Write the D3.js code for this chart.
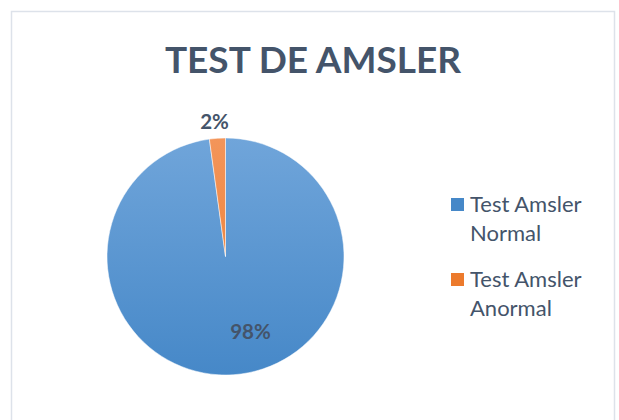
<!DOCTYPE html>
<html>
<head>
<meta charset="utf-8">
<script src="https://cdn.jsdelivr.net/npm/d3@7"></script>
<style>
  body { margin: 0; background: #fff; }
  svg { display: block; }
  text { font-family: Lato, "Open Sans", sans-serif; }
</style>
</head>
<body>
<div id="chart"></div>
<script>
const categories = ["Test Amsler Normal", "Test Amsler Anormal"];
const values = [45, 1];
const legendLines = [["Test Amsler", "Normal"], ["Test Amsler", "Anormal"]];
const title = "TEST DE AMSLER";

const width = 619, height = 420;
const textColor = "#44546a";

const svg = d3.select("#chart").append("svg")
    .attr("width", width)
    .attr("height", height);

// gradients like the office theme fills
const defs = svg.append("defs");
const grads = [["#70a5da", "#4688c8"], ["#f3955a", "#ec7a2c"]];
grads.forEach((g, i) => {
    const lg = defs.append("linearGradient")
        .attr("id", "grad" + i)
        .attr("gradientUnits", "userSpaceOnUse")
        .attr("x1", 0).attr("y1", -119).attr("x2", 0).attr("y2", 119);
    lg.append("stop").attr("offset", "0%").attr("stop-color", g[0]);
    lg.append("stop").attr("offset", "100%").attr("stop-color", g[1]);
});

// chart frame
svg.append("rect")
    .attr("x", 11.5).attr("y", 11.5)
    .attr("width", 603).attr("height", 420)
    .attr("fill", "none")
    .attr("stroke", "#dde2ea")
    .attr("stroke-width", 1.5);

svg.append("text")
    .attr("x", 313).attr("y", 73)
    .attr("text-anchor", "middle")
    .attr("font-size", 37)
    .attr("font-weight", "bold")
    .attr("fill", textColor)
    .text(title);

const cx = 225.5, cy = 256.5, r = 118.5;
const g = svg.append("g").attr("transform", `translate(${cx},${cy})`);

const pie = d3.pie().sort(null).value(d => d);
const arcs = pie(values);
const arc = d3.arc().innerRadius(0).outerRadius(r);
const total = d3.sum(values);
const fmt = d => Math.round(d / total * 100) + "%";

g.selectAll("path")
    .data(arcs)
    .enter()
    .append("path")
    .attr("d", arc)
    .attr("fill", (d, i) => `url(#grad${i})`)
    .attr("stroke", "#fff")
    .attr("stroke-width", 0.5);

// data labels: big slice inside, small slice outside
const labelPos = [[25, 82], [-11, -128]];
g.selectAll("text.lbl")
    .data(arcs)
    .enter()
    .append("text")
    .attr("class", "lbl")
    .attr("x", (d, i) => labelPos[i][0])
    .attr("y", (d, i) => labelPos[i][1])
    .attr("text-anchor", "middle")
    .attr("font-size", 20.5)
    .attr("font-weight", "bold")
    .attr("fill", textColor)
    .text(d => fmt(d.value));

// legend
const legend = svg.append("g").attr("transform", "translate(451,0)");
const legY = [198, 273];
categories.forEach((c, i) => {
    const item = legend.append("g").attr("transform", `translate(0,${legY[i]})`);
    item.append("rect")
        .attr("width", 13).attr("height", 13)
        .attr("fill", grads[i][1]);
    legendLines[i].forEach((t, j) => {
        item.append("text")
            .attr("x", 19).attr("y", 14 + j * 29)
            .attr("font-size", 22)
            .attr("fill", textColor)
            .text(t);
    });
});
</script>
</body>
</html>
